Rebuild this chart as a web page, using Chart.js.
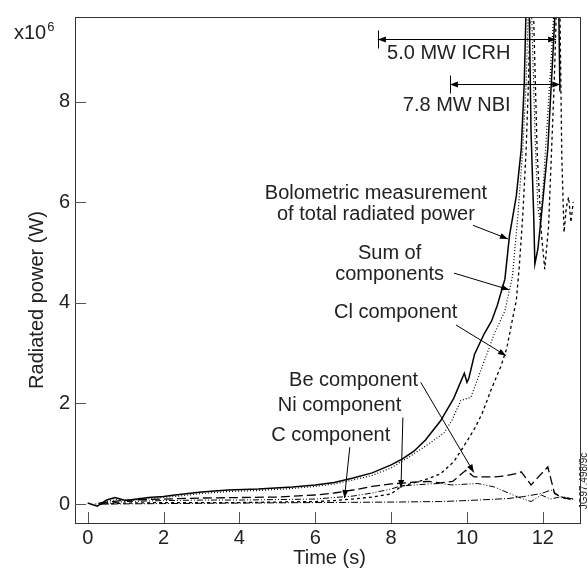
<!DOCTYPE html>
<html>
<head>
    <meta charset="utf-8">
    <title>Radiated power components</title>
    <script src="https://cdn.jsdelivr.net/npm/chart.js"></script>
    <style>
        body { margin: 0; background: #fff; }
        #wrap { width: 588px; height: 568px; }
    </style>
</head>
<body>
    <div id="wrap"><canvas id="powerChart" width="588" height="568"></canvas></div>

    <script>
        // tick labels
        const timeTicks = [0, 2, 4, 6, 8, 10, 12];
        const powerTicks = [0, 2, 4, 6, 8];

        // bolometric measurement of total radiated power (x10^6 W)
        const bolTime  = [0.0, 0.25, 0.5, 0.72, 1.0, 1.3, 1.6, 2.0, 2.3, 3.0, 3.7, 4.5, 5.4, 6.0, 6.5, 7.0, 7.5, 8.0, 8.3, 8.6, 8.9, 9.3, 9.65, 9.93, 10.0, 10.05, 10.2, 10.45, 10.65, 10.8, 11.0, 11.12, 11.3, 11.43, 11.51, 11.56, 11.64, 11.69, 11.76, 11.79, 11.87, 11.96, 12.13, 12.27, 12.33, 12.42, 12.45];
        const bolPower = [0.02, -0.04, 0.08, 0.13, 0.07, 0.10, 0.13, 0.15, 0.18, 0.24, 0.28, 0.30, 0.34, 0.38, 0.43, 0.52, 0.62, 0.78, 0.90, 1.05, 1.27, 1.65, 2.10, 2.60, 2.42, 2.50, 2.98, 3.38, 3.64, 3.95, 4.47, 5.33, 6.12, 7.05, 8.36, 9.90, 9.90, 7.37, 5.72, 4.77, 5.07, 5.72, 7.05, 9.00, 9.90, 9.90, 8.20];

        // sum of components
        const sumTime  = [0.2, 0.5, 0.8, 1.0, 1.6, 2.3, 3.0, 3.7, 4.5, 5.4, 6.0, 6.5, 7.0, 7.5, 8.0, 8.5, 9.0, 9.4, 9.6, 9.84, 10.1, 10.2, 10.46, 10.72, 11.0, 11.2, 11.34, 11.47, 11.56, 11.62, 11.7, 11.8, 11.87, 11.93, 12.0, 12.1, 12.2, 12.3, 12.4];
        const sumPower = [0.0, 0.05, 0.10, 0.06, 0.11, 0.15, 0.21, 0.25, 0.27, 0.31, 0.35, 0.40, 0.48, 0.57, 0.72, 0.95, 1.20, 1.42, 1.66, 2.06, 2.12, 2.32, 2.85, 3.38, 3.84, 4.53, 5.72, 7.05, 8.36, 9.90, 9.90, 7.20, 5.90, 5.60, 6.20, 7.40, 8.60, 9.90, 9.90];

        // Cl component
        const clTime  = [0.3, 1, 2, 3, 4, 5, 6, 6.5, 7, 7.5, 8, 8.26, 8.96, 9.3, 9.66, 10.0, 10.2, 10.4, 10.63, 10.9, 11.05, 11.21, 11.3, 11.38, 11.47, 11.56, 11.62, 11.67, 11.75, 11.85, 11.96, 12.05, 12.15, 12.3, 12.36, 12.45, 12.5, 12.56, 12.62, 12.68, 12.74, 12.8];
        const clPower = [0.0, 0.02, 0.03, 0.03, 0.03, 0.04, 0.05, 0.07, 0.10, 0.14, 0.20, 0.35, 0.50, 0.60, 0.85, 1.25, 1.50, 1.80, 2.26, 2.75, 3.10, 3.71, 4.04, 4.73, 5.72, 7.05, 8.36, 9.90, 9.90, 7.00, 5.40, 4.67, 5.50, 8.36, 9.90, 9.90, 6.90, 5.40, 5.90, 6.10, 5.60, 6.00];

        // Be component
        const beTime  = [0.3, 1, 2, 3, 4, 5, 6, 6.5, 7, 7.5, 8, 8.5, 9, 9.3, 9.62, 9.97, 10.19, 10.72, 11.0, 11.34, 11.43, 11.69, 12.13, 12.31, 12.5, 12.8];
        const bePower = [0.02, 0.08, 0.10, 0.12, 0.13, 0.14, 0.18, 0.22, 0.28, 0.35, 0.40, 0.43, 0.45, 0.42, 0.45, 0.67, 0.54, 0.54, 0.56, 0.61, 0.64, 0.38, 0.74, 0.21, 0.14, 0.08];

        // Ni component
        const niTime  = [0.3, 1, 2, 3, 4, 5, 6, 7, 7.5, 8, 8.26, 9, 9.31, 9.6, 10.28, 10.72, 11.34, 11.69, 11.96, 12.2, 12.5, 12.8];
        const niPower = [0.0, 0.05, 0.07, 0.08, 0.08, 0.09, 0.10, 0.16, 0.22, 0.30, 0.36, 0.40, 0.41, 0.38, 0.41, 0.34, 0.14, 0.05, 0.18, 0.10, 0.15, 0.10];

        // C component
        const cTime  = [0.3, 2, 4, 6, 8, 9.3, 10, 11.08, 11.5, 11.96, 12.22, 12.5, 12.8];
        const cPower = [0.0, 0.01, 0.02, 0.03, 0.04, 0.05, 0.07, 0.11, 0.15, 0.21, 0.28, 0.12, 0.10];

        const FONT = '"Liberation Sans", Arial, Helvetica, sans-serif';
        const FONT_SIZE = 20;

        // text labels and arrows, in data units (s, x10^6 W)
        const labels = [
            { text: '5.0 MW ICRH', t: 9.52, p: 8.95 },
            { text: '7.8 MW NBI', t: 9.73, p: 7.92 },
            { text: 'Bolometric measurement', t: 7.6, p: 6.18 },
            { text: 'of total radiated power', t: 7.6, p: 5.76 },
            { text: 'Sum of', t: 7.96, p: 4.99 },
            { text: 'components', t: 7.96, p: 4.57 },
            { text: 'Cl component', t: 8.12, p: 3.80 },
            { text: 'Be component', t: 7.01, p: 2.46 },
            { text: 'Ni component', t: 6.64, p: 1.96 },
            { text: 'C component', t: 6.41, p: 1.37 }
        ];
        const pointers = [
            [10.16, 5.54, 11.08, 5.27],
            [9.66, 4.59, 11.11, 4.26],
            [9.71, 3.56, 11.03, 2.95],
            [8.78, 2.42, 10.18, 0.63],
            [8.31, 1.72, 8.26, 0.32],
            [6.91, 1.13, 6.77, 0.12]
        ];
        const spans = [
            { from: 7.65, to: 12.35, p: 9.25 },   // ICRH
            { from: 9.55, to: 12.46, p: 8.34 }    // NBI
        ];

        const toPoints = (ts, ps) => ts.map((t, i) => ({ x: t, y: ps[i] }));

        const series = (label, ts, ps, dash, width) => ({
            label: label,
            data: toPoints(ts, ps),
            borderColor: '#000',
            borderWidth: width,
            borderDash: dash,
            pointRadius: 0,
            tension: 0,
            fill: false
        });

        const arrowHead = (ctx, x0, y0, x1, y1) => {
            const a = Math.atan2(y1 - y0, x1 - x0);
            const len = 8, w = 3;
            ctx.beginPath();
            ctx.moveTo(x1, y1);
            ctx.lineTo(x1 - len * Math.cos(a) + w * Math.sin(a), y1 - len * Math.sin(a) - w * Math.cos(a));
            ctx.lineTo(x1 - len * Math.cos(a) - w * Math.sin(a), y1 - len * Math.sin(a) + w * Math.cos(a));
            ctx.closePath();
            ctx.fill();
        };

        const decorations = {
            id: 'decorations',
            afterDraw(chart) {
                const ctx = chart.ctx;
                const xs = chart.scales.x, ys = chart.scales.y;
                const area = chart.chartArea;
                ctx.save();

                // frame
                ctx.strokeStyle = '#333';
                ctx.lineWidth = 1;
                ctx.strokeRect(Math.round(area.left) + 0.5, Math.round(area.top) + 0.5,
                    Math.round(area.right - area.left), Math.round(area.bottom - area.top));

                // inward ticks
                ctx.strokeStyle = '#555';
                ctx.beginPath();
                timeTicks.forEach(v => {
                    const x = Math.round(xs.getPixelForValue(v)) + 0.5;
                    ctx.moveTo(x, area.bottom);
                    ctx.lineTo(x, area.bottom - 11);
                });
                powerTicks.forEach(v => {
                    const y = Math.round(ys.getPixelForValue(v)) + 0.5;
                    ctx.moveTo(area.left, y);
                    ctx.lineTo(area.left + 11, y);
                });
                ctx.stroke();

                ctx.fillStyle = '#222';
                ctx.textBaseline = 'middle';

                // axis titles
                ctx.font = FONT_SIZE + 'px ' + FONT;
                ctx.textAlign = 'center';
                ctx.fillText('Time (s)', (area.left + area.right) / 2 + 2, 558);
                ctx.save();
                ctx.translate(37, 300);
                ctx.rotate(-Math.PI / 2);
                ctx.fillText('Radiated power (W)', 0, 0);
                ctx.restore();

                // x10^6
                ctx.textAlign = 'left';
                ctx.fillText('x10', 14, 33);
                const w = ctx.measureText('x10').width;
                ctx.font = '13px ' + FONT;
                ctx.fillText('6', 14 + w + 1, 27);

                // side code
                ctx.save();
                ctx.font = '10px ' + FONT;
                ctx.textAlign = 'center';
                ctx.translate(584, 481);
                ctx.rotate(-Math.PI / 2);
                ctx.fillText('JG97.498/9c', 0, 0);
                ctx.restore();

                // labels
                ctx.font = FONT_SIZE + 'px ' + FONT;
                ctx.textAlign = 'center';
                labels.forEach(l => {
                    ctx.fillText(l.text, xs.getPixelForValue(l.t), ys.getPixelForValue(l.p));
                });

                // pointer arrows
                ctx.strokeStyle = '#000';
                ctx.fillStyle = '#000';
                ctx.lineWidth = 1;
                pointers.forEach(p => {
                    const x0 = xs.getPixelForValue(p[0]), y0 = ys.getPixelForValue(p[1]);
                    const x1 = xs.getPixelForValue(p[2]), y1 = ys.getPixelForValue(p[3]);
                    ctx.beginPath();
                    ctx.moveTo(x0, y0);
                    ctx.lineTo(x1, y1);
                    ctx.stroke();
                    arrowHead(ctx, x0, y0, x1, y1);
                });

                // heating spans
                spans.forEach(s => {
                    const x0 = xs.getPixelForValue(s.from), x1 = xs.getPixelForValue(s.to);
                    const y = Math.round(ys.getPixelForValue(s.p)) + 0.5;
                    ctx.beginPath();
                    ctx.moveTo(x0, y);
                    ctx.lineTo(x1, y);
                    ctx.moveTo(Math.round(x0) + 0.5, y - 9);
                    ctx.lineTo(Math.round(x0) + 0.5, y + 9);
                    ctx.stroke();
                    arrowHead(ctx, x1, y, x0, y);
                    arrowHead(ctx, x0, y, x1, y);
                });

                ctx.restore();
            }
        };

        new Chart(document.getElementById('powerChart').getContext('2d'), {
            type: 'line',
            data: {
                datasets: [
                    series('Bolometric measurement', bolTime, bolPower, [], 1.5),
                    series('Sum of components', sumTime, sumPower, [1, 2], 1.2),
                    series('Cl component', clTime, clPower, [3, 3], 1.3),
                    series('Be component', beTime, bePower, [9, 4], 1.3),
                    series('Ni component', niTime, niPower, [6, 2, 1, 2, 1, 2], 1),
                    series('C component', cTime, cPower, [7, 2, 1, 2], 1)
                ]
            },
            options: {
                responsive: false,
                animation: false,
                layout: { padding: { top: 15, right: 8, left: 0, bottom: 0 } },
                plugins: { legend: { display: false }, tooltip: { enabled: false } },
                scales: {
                    x: {
                        type: 'linear',
                        min: -0.335,
                        max: 12.98,
                        grid: { display: false, drawTicks: false },
                        border: { display: false },
                        afterBuildTicks: s => { s.ticks = timeTicks.map(v => ({ value: v })); },
                        afterFit: s => { s.height = 45; },
                        ticks: { color: '#222', padding: 3, maxRotation: 0, font: { family: FONT, size: FONT_SIZE } }
                    },
                    y: {
                        min: -0.376,
                        max: 9.68,
                        grid: { display: false, drawTicks: false },
                        border: { display: false },
                        afterBuildTicks: s => { s.ticks = powerTicks.map(v => ({ value: v })); },
                        afterFit: s => { s.width = 75; },
                        ticks: { color: '#222', padding: 5, font: { family: FONT, size: FONT_SIZE } }
                    }
                }
            },
            plugins: [decorations]
        });
    </script>
</body>
</html>
